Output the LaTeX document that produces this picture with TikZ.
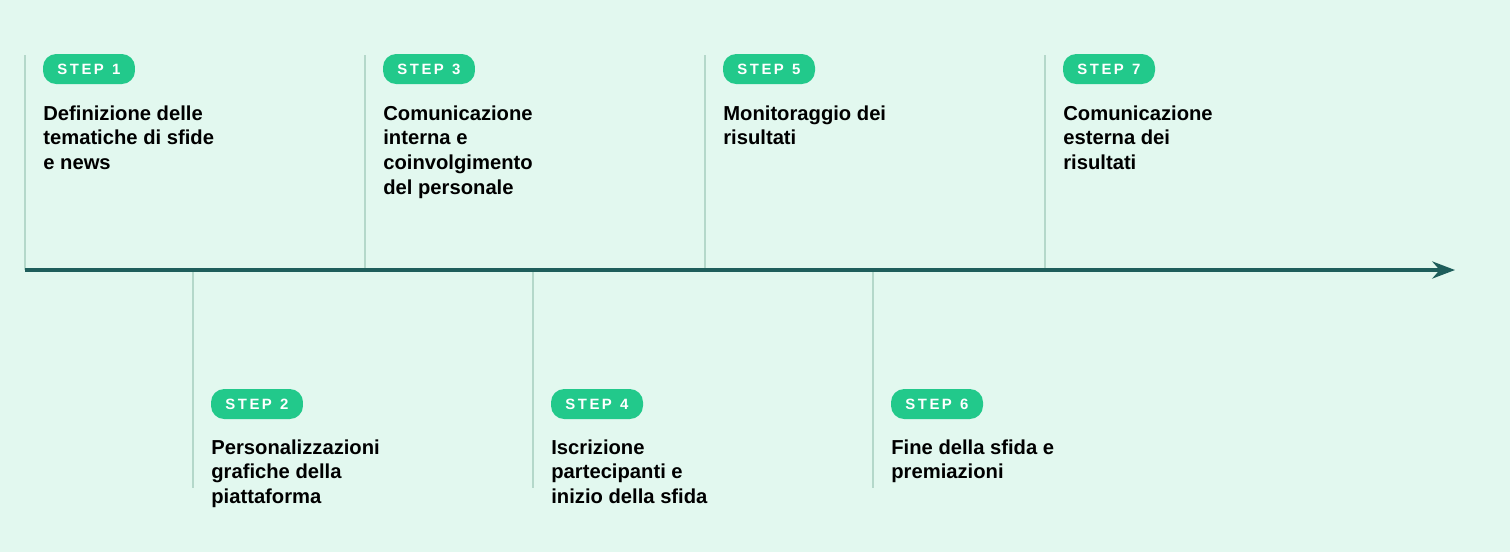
\documentclass[tikz,border=0pt]{standalone}
\usepackage{fontspec}
\setmainfont{Liberation Sans}
\usetikzlibrary{positioning, arrows.meta}
\definecolor{bgmint}{HTML}{E2F8EF}
\definecolor{linedark}{HTML}{1E5E5B}
\definecolor{tickline}{HTML}{B4D8CA}
\definecolor{pillgreen}{HTML}{22C98B}
\begin{document}
\begin{tikzpicture}[x=0.02cm, y=-0.02cm]
		\tikzset{
			>=Stealth,
			pill/.style={fill=pillgreen, rounded corners=7.5pt, text=white, font=\bfseries\fontsize{8.5}{10}\selectfont, minimum width=1.84cm, minimum height=0.6cm, inner sep=0pt},
			title/.style={anchor=north west, align=left, inner sep=0pt, font=\bfseries\fontsize{11.5}{14.2}\selectfont},
			tick/.style={draw=tickline, line width=0.8pt}
		}
		\fill[bgmint] (0,0) rectangle (1510,552);
		
		% Upper steps
		\foreach \n/\x/\t in {1/25/{Definizione delle\\tematiche di sfide\\e news},
		                      3/365/{Comunicazione\\interna e\\coinvolgimento\\del personale},
		                      5/705/{Monitoraggio dei\\risultati},
		                      7/1045/{Comunicazione\\esterna dei\\risultati}}{
			\coordinate (top\n) at (\x,55);
			\coordinate (base\n) at (\x,270);
			\draw[tick] (top\n) -- (base\n);
			\node[pill] (badge\n) at (\x+64,69) {S\,T\,E\,P\ \ \n};
			\node[title] (label\n) at (\x+18,105) {\t};
		}
		
		% Lower steps
		\foreach \n/\x/\t in {2/193/{Personalizzazioni\\grafiche della\\piattaforma},
		                      4/533/{Iscrizione\\partecipanti e\\inizio della sfida},
		                      6/873/{Fine della sfida e\\premiazioni}}{
			\coordinate (base\n) at (\x,270);
			\coordinate (bot\n) at (\x,488);
			\draw[tick] (base\n) -- (bot\n);
			\node[pill] (badge\n) at (\x+64,404) {S\,T\,E\,P\ \ \n};
			\node[title] (label\n) at (\x+18,439) {\t};
		}
		
		% Timeline
		\coordinate (start) at (25,270);
		\coordinate (end) at (1455,270);
		\draw[->, linedark, line width=2.2pt] (start) -- (end);
	\end{tikzpicture}
\end{document}
